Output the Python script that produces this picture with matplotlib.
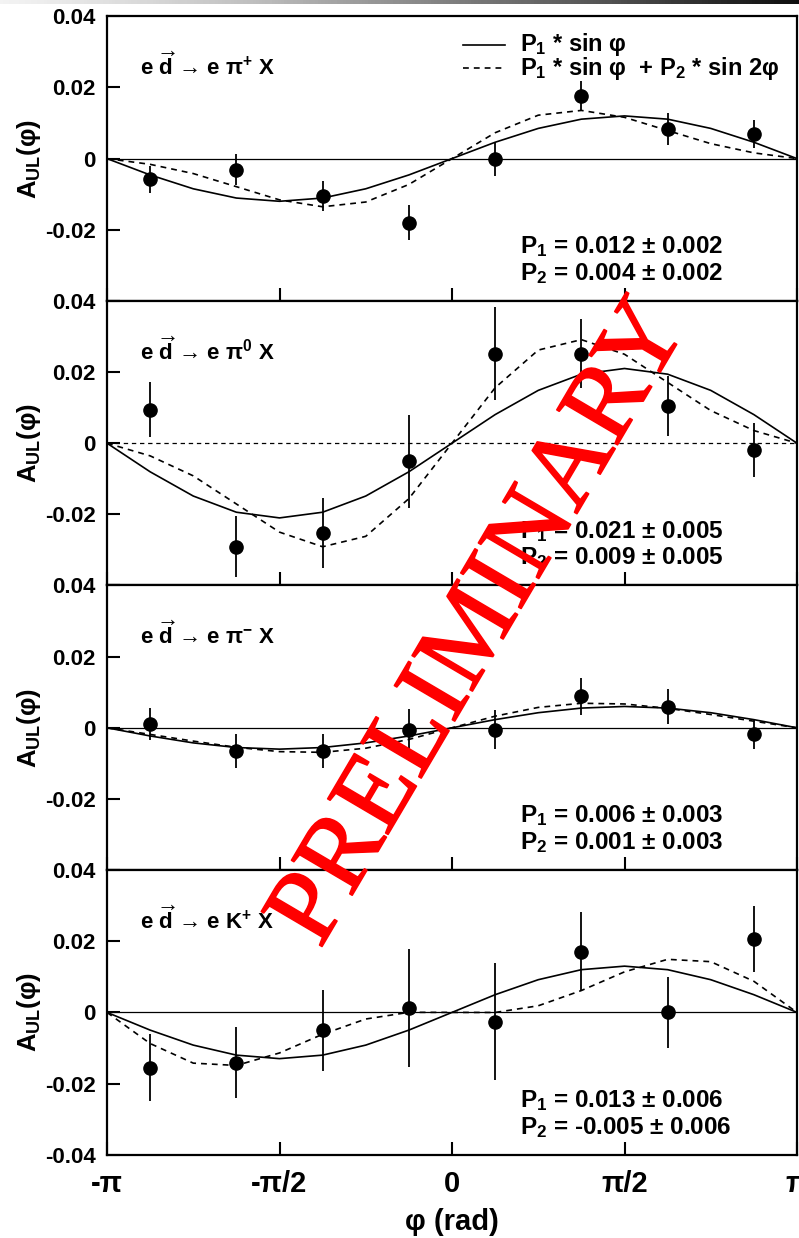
import numpy as np
import matplotlib
matplotlib.use("Agg")
import matplotlib.pyplot as plt
import matplotlib.patheffects as pe

plt.rcParams['font.family'] = ['Liberation Sans', 'DejaVu Sans']
plt.rcParams['font.weight'] = 'bold'
plt.rcParams['axes.labelweight'] = 'bold'
plt.rcParams['mathtext.fontset'] = 'custom'
plt.rcParams['mathtext.rm'] = 'Liberation Sans:bold'
plt.rcParams['mathtext.it'] = 'Liberation Sans:bold'
plt.rcParams['mathtext.bf'] = 'Liberation Sans:bold'
plt.rcParams['mathtext.sf'] = 'Liberation Sans:bold'

# bin centres (rad) and the four channels
phi_bins = np.pi * np.array([-7, -5, -3, -1, 1, 3, 5, 7]) / 8
channels = [r"e $\overrightarrow{d}$ → e π$^{+}$ X",
            r"e $\overrightarrow{d}$ → e π$^{0}$ X",
            r"e $\overrightarrow{d}$ → e π$^{-}$ X",
            r"e $\overrightarrow{d}$ → e K$^{+}$ X"]

a_pip = [-0.0058, -0.0031, -0.0105, -0.0180, -0.0002, 0.0177, 0.0083, 0.0069]
e_pip = [0.0038, 0.0043, 0.0043, 0.0049, 0.0048, 0.0042, 0.0044, 0.0039]
a_pi0 = [0.0094, -0.0291, -0.0253, -0.0051, 0.0252, 0.0252, 0.0105, -0.0019]
e_pi0 = [0.0077, 0.0085, 0.0098, 0.0130, 0.0130, 0.0097, 0.0084, 0.0077]
a_pim = [0.0012, -0.0066, -0.0066, -0.0005, -0.0005, 0.0089, 0.0059, -0.0018]
e_pim = [0.0045, 0.0048, 0.0048, 0.0057, 0.0054, 0.0052, 0.0049, 0.0042]
a_kp = [-0.0155, -0.0142, -0.0050, 0.0012, -0.0026, 0.0171, 0.0000, 0.0207]
e_kp = [0.0095, 0.0100, 0.0114, 0.0166, 0.0164, 0.0110, 0.0100, 0.0093]

asym = [a_pip, a_pi0, a_pim, a_kp]
errs = [e_pip, e_pi0, e_pim, e_kp]

# fit parameters: one-term fit (solid) and two-term fit (dashed)
p1_solid = [0.012, 0.021, 0.006, 0.013]
p1_dash = [0.0116, 0.025, 0.0067, 0.0114]
p2_dash = [0.004, 0.0085, 0.001, -0.0062]

# quoted results
p1_txt = ["0.012", "0.021", "0.006", "0.013"]
p2_txt = ["0.004", "0.009", "0.001", "-0.005"]
p1_err = ["0.002", "0.005", "0.003", "0.006"]
p2_err = ["0.002", "0.005", "0.003", "0.006"]

xtick_labels = ["-π", "-π/2", "0", "π/2", "π"]

# curves were drawn as polylines sampled every pi/8
phi_nodes = np.linspace(-np.pi, np.pi, 17)

fig = plt.figure(figsize=(7.99, 12.38), dpi=100)

left, width = 107 / 799, 690 / 799
bot0 = 1 - 1154.7 / 1238
ph = (1154.7 - 16.3) / 1238 / 4
dash = (0, (3.5, 3))

for i in range(4):
    ax = fig.add_axes([left, bot0 + (3 - i) * ph, width, ph])
    ax.set_xlim(-np.pi, np.pi)
    ax.set_ylim(-0.04, 0.04)

    if i == 1:
        ax.axhline(0, color='black', lw=0.9, ls=dash)
    else:
        ax.axhline(0, color='black', lw=0.9)

    solid = p1_solid[i] * np.sin(phi_nodes)
    two = p1_dash[i] * np.sin(phi_nodes) + p2_dash[i] * np.sin(2 * phi_nodes)
    ax.plot(phi_nodes, solid, color='black', lw=1.2)
    ax.plot(phi_nodes, two, color='black', lw=1.2, ls=dash)

    ax.errorbar(phi_bins, asym[i], yerr=errs[i], fmt='o', color='black',
                ms=9.5, elinewidth=1.3, capsize=0, zorder=5)

    for s in ax.spines.values():
        s.set_linewidth(1.6)

    ax.set_xticks([-np.pi, -np.pi / 2, 0, np.pi / 2, np.pi])
    ax.set_yticks([-0.04, -0.02, 0, 0.02, 0.04])
    ylabs = ['-0.04', '-0.02', '0', '0.02', '0.04']
    if i < 3:
        ylabs[0] = ''
        ax.set_xticklabels([])
    else:
        ax.set_xticklabels(xtick_labels, fontsize=21, fontweight='bold')
        ax.set_xlabel("φ (rad)", fontsize=21, fontweight='bold', labelpad=7)
    ax.set_yticklabels(ylabs, fontsize=16, fontweight='bold')
    ax.tick_params(axis='y', direction='in', length=9.5, width=1.5, pad=8,
                   left=True, right=False)
    ax.tick_params(axis='x', direction='in', length=9.5, width=1.5, pad=11,
                   bottom=True, top=False)

    ax.set_ylabel(r"A$_{UL}$(φ)", fontsize=18.5, fontweight='bold')
    ax.yaxis.set_label_coords(-0.093, 0.5)

    ax.text(0.048, 0.825, channels[i], transform=ax.transAxes,
            fontsize=16, va='center', ha='left', fontweight='bold')

    ax.text(0.599, 0.19, r"P$_1$ = %s ± %s" % (p1_txt[i], p1_err[i]),
            transform=ax.transAxes, fontsize=17.5, va='center', ha='left',
            fontweight='bold')
    ax.text(0.599, 0.097, r"P$_2$ = %s ± %s" % (p2_txt[i], p2_err[i]),
            transform=ax.transAxes, fontsize=17.5, va='center', ha='left',
            fontweight='bold')

    if i == 0:
        ax.plot([0.516, 0.577], [0.899, 0.899], transform=ax.transAxes,
                color='black', lw=1.2)
        ax.plot([0.516, 0.577], [0.82, 0.82], transform=ax.transAxes,
                color='black', lw=1.2, ls=dash)
        ax.text(0.599, 0.902, r"P$_1$ * sin φ", transform=ax.transAxes,
                fontsize=17, va='center', ha='left', fontweight='bold')
        ax.text(0.599, 0.815, r"P$_1$ * sin φ  + P$_2$ * sin 2φ",
                transform=ax.transAxes, fontsize=17, va='center', ha='left',
                fontweight='bold')

# gradient strip at the very top of the slide
gax = fig.add_axes([0, 1 - 4 / 1238, 1, 4 / 1238])
gax.imshow(np.linspace(0.1, 0.95, 256)[None, :], aspect='auto', cmap='Greys',
           vmin=0, vmax=1)
gax.axis('off')

fig.text(0.603, 0.496, "PRELIMINARY", fontsize=77, family='Liberation Serif',
         weight='normal', color='red', rotation=59.5, ha='center', va='center',
         path_effects=[pe.withStroke(linewidth=1.2, foreground='red')])

fig.savefig("out.png", dpi=100)
